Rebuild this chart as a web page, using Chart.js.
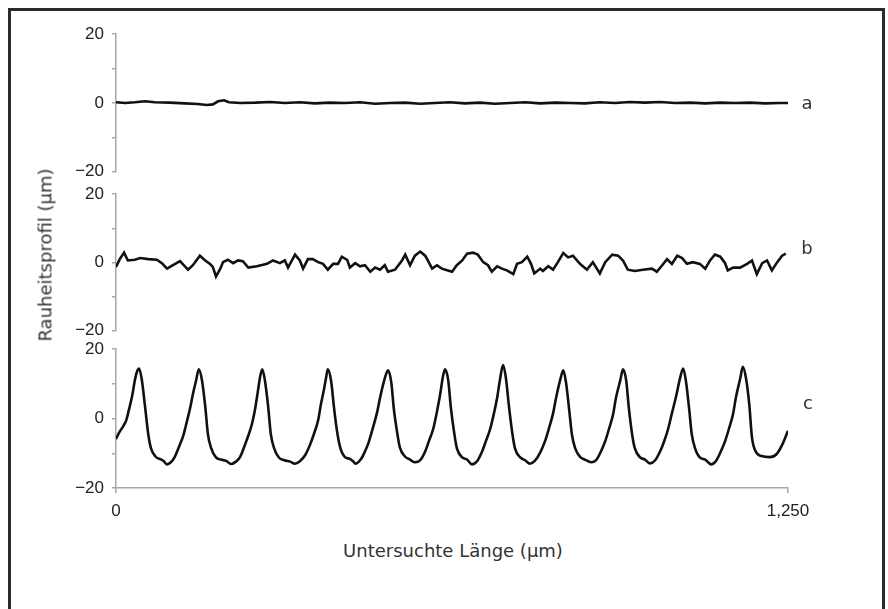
<!DOCTYPE html>
<html><head><meta charset="utf-8">
<script src="https://cdn.jsdelivr.net/npm/chart.js@4"></script>
<style>
html,body{margin:0;padding:0;background:#fff;width:888px;height:609px;overflow:hidden;position:relative;}
#frame{position:absolute;left:8px;top:8px;width:871px;height:640px;border:3px solid #2b2b2b;}
canvas{position:absolute;left:0;}
.lbl{position:absolute;font-family:'DejaVu Sans',sans-serif;font-size:18px;color:#333;transform:translate(-50%,-50%);white-space:nowrap;}
#ytitle{transform:translate(-50%,-50%) rotate(-90deg);}
</style></head><body>
<div id="frame"></div>
<canvas id="ca" width="888" height="174" style="top:16px;width:888px;height:174px"></canvas>
<canvas id="cb" width="888" height="173" style="top:176px;width:888px;height:173px"></canvas>
<canvas id="cc" width="888" height="202" style="top:331px;width:888px;height:202px"></canvas>
<div class="lbl" id="la" style="left:807px;top:102px">a</div>
<div class="lbl" id="lb" style="left:807px;top:247px">b</div>
<div class="lbl" id="lc" style="left:808px;top:402px">c</div>
<div class="lbl" id="ytitle" style="left:45px;top:255px">Rauheitsprofil (µm)</div>
<div class="lbl" id="xtitle" style="left:453px;top:550px">Untersuchte Länge (µm)</div>
<script>
// x tick labels (µm)
const xTickValues = [0, 1250];
const xTickLabels = ['0', '1,250'];
// y tick labels
const yTickValues = [20, 0, -20];
const yTickLabels = ['20', '0', '\u221220'];

// profile a
const aX = [0,17,35,54,72,100,128,152,169,180,190,201,210,231,259,287,314,342,370,398,426,454,482,510,538,566,593,621,649,677,705,733,761,789,817,845,872,900,928,956,984,1012,1040,1068,1096,1124,1151,1179,1207,1235,1250];
const aY = [0.2,0.0,0.2,0.5,0.2,0.1,-0.1,-0.3,-0.6,-0.4,0.5,0.8,0.2,0.0,0.1,0.3,0.0,0.2,-0.1,0.1,0.0,0.2,-0.2,0.0,0.1,-0.2,0.0,0.2,-0.1,0.1,-0.2,0.0,0.2,-0.1,0.1,0.0,-0.1,0.2,0.0,0.3,0.1,0.3,0.0,0.1,-0.1,0.1,0.0,0.1,-0.1,0.0,0.0];

// profile b
const bX = [0,7,15,22,35,45,60,76,86,95,106,119,134,143,156,166,175,180,186,194,199,208,218,227,236,246,262,281,292,305,314,320,333,342,348,357,366,376,385,394,404,413,420,430,435,445,454,463,473,482,491,500,506,519,532,538,547,556,566,575,580,588,597,606,616,625,634,644,653,664,673,683,692,699,709,718,727,739,746,755,765,772,778,789,794,804,813,822,832,841,850,863,876,887,900,910,923,934,943,952,965,980,997,1006,1016,1025,1034,1044,1053,1062,1073,1086,1096,1105,1114,1124,1133,1138,1148,1161,1174,1183,1192,1202,1211,1220,1230,1239,1246];
const bY = [-1.3,1.0,2.9,0.6,0.8,1.3,1.0,0.8,-0.3,-1.8,-0.8,0.4,-2.1,-0.8,2.0,0.6,-0.4,-1.3,-4.1,-1.8,0.1,0.8,-0.2,0.6,0.4,-1.5,-1.1,-0.4,0.6,-0.2,0.6,-1.5,2.3,0.6,-1.8,1.0,1.0,0.1,-0.4,-2.1,-0.4,-0.4,1.7,0.8,-1.5,-0.2,-1.1,-0.8,-2.7,-1.5,-2.1,-0.8,-2.7,-2.1,0.6,2.3,-0.8,2.0,3.2,2.0,0.6,-1.8,-0.8,-1.8,-2.3,-2.7,-0.8,0.6,2.6,2.9,2.3,0.1,-0.8,-2.7,-1.1,-1.8,-2.3,-3.4,-0.4,0.1,1.7,-0.4,-3.2,-1.8,-2.5,-1.1,-2.1,0.1,2.8,1.5,2.0,-0.4,-2.1,0.1,-3.2,0.1,2.3,2.0,0.6,-2.1,-2.5,-2.1,-1.8,-2.7,-0.8,1.0,-0.4,2.0,1.3,-0.4,0.1,-0.4,-1.8,0.6,2.3,1.7,-0.2,-2.3,-1.5,-1.5,-0.4,0.6,-3.4,-0.2,0.6,-2.3,0.1,2.0,2.6];

// profile c
const cX = [0,6,13,19,24,30,35,39,43,48,54,60,65,74,84,89,95,102,108,117,125,130,138,143,149,154,
160,166,171,177,186,195,205,214,223,231,240,247,253,259,264,268,272,
277,283,288,294,303,313,324,333,342,352,361,368,376,381,387,391,394,
400,406,411,417,426,435,441,446,456,463,469,478,486,491,500,506,
512,517,523,528,538,547,556,566,575,582,590,597,603,608,612,
618,623,629,634,644,653,662,672,681,688,696,703,709,714,720,
725,731,737,742,752,761,770,779,789,798,805,813,818,826,832,
837,843,848,854,863,872,884,893,902,910,917,925,930,938,943,
949,954,960,965,975,984,993,1003,1012,1019,1027,1034,1042,1049,1055,
1060,1066,1071,1077,1086,1096,1107,1116,1125,1133,1140,1148,1153,1161,1166,
1172,1178,1183,1190,1201,1216,1229,1240,1250];
const cY = [-5.9,-4.0,-2.3,-0.5,2.5,6.5,11.0,13.5,14.4,11.2,3.5,-4.5,-8.5,-11.0,-11.8,-12.3,-13.2,-12.6,-11.4,-8.2,-5.0,-2.0,3.1,7.0,11.0,14.2,
11.0,3.5,-4.5,-8.5,-11.2,-11.8,-12.2,-13.1,-12.4,-11.0,-7.5,-4.5,-1.5,3.0,8.0,12.0,14.2,
11.0,3.5,-4.5,-8.5,-11.2,-12.0,-12.4,-13.0,-12.3,-10.5,-7.5,-4.5,-0.5,4.0,8.5,12.0,14.2,
11.0,2.5,-3.5,-8.3,-11.1,-11.6,-12.3,-13.0,-11.6,-9.5,-7.3,-2.6,2.0,5.9,11.6,13.9,
10.5,2.5,-4.0,-8.3,-11.0,-11.8,-12.6,-12.0,-9.5,-6.5,-3.0,2.0,7.0,12.0,14.2,
11.0,3.0,-4.0,-8.5,-11.2,-11.8,-13.2,-12.2,-9.5,-6.5,-3.0,1.5,6.0,11.0,15.4,
12.0,3.5,-4.0,-8.5,-11.2,-12.0,-13.0,-12.2,-9.8,-6.5,-3.0,1.5,5.5,11.0,13.9,
10.5,2.5,-4.5,-8.5,-11.0,-11.8,-12.6,-12.0,-9.5,-6.5,-3.0,1.5,6.0,11.0,14.2,
11.0,3.0,-4.5,-8.5,-11.2,-11.8,-12.9,-12.0,-9.5,-6.8,-3.0,1.5,6.5,11.5,14.4,
11.0,3.0,-4.5,-8.5,-11.2,-11.8,-13.2,-12.2,-9.5,-6.5,-3.0,1.5,6.0,11.5,14.9,
11.5,4.0,-5.5,-9.5,-10.8,-11.1,-10.2,-7.3,-3.5];

const tickFont = {family: "'Liberation Sans', Arial, sans-serif", size: 17};
const tickColor = '#222';
const axisColor = '#a8a8a8';

function makeChart(id, xs, ys, showX, smooth) {
  const pts = xs.map((x, i) => ({x: x, y: ys[i]}));
  return new Chart(document.getElementById(id), {
    type: 'line',
    data: {datasets: [{data: pts, borderColor: '#111', borderWidth: 2.6, pointRadius: 0,
      fill: false, tension: smooth ? 0.4 : 0, cubicInterpolationMode: smooth ? 'monotone' : 'default'}]},
    options: {
      responsive: false, animation: false, devicePixelRatio: 1,
      layout: {padding: {left: 0, right: 100, top: 16, bottom: showX ? 0 : 16}},
      plugins: {legend: {display: false}, tooltip: {enabled: false}},
      scales: {
        x: {type: 'linear', min: 0, max: 1250, display: showX,
          afterBuildTicks: s => { s.ticks = xTickValues.map(v => ({value: v})); },
          afterFit: s => { s.height = showX ? 45 : 0; },
          grid: {drawOnChartArea: false, drawTicks: true, tickLength: 5, color: axisColor, lineWidth: 1.5},
          border: {color: axisColor, width: 1.5},
          ticks: {font: tickFont, color: tickColor, padding: 8, maxRotation: 0, autoSkip: false,
            callback: v => { const k = xTickValues.indexOf(v); return k >= 0 ? xTickLabels[k] : ''; }}},
        y: {type: 'linear', min: -20, max: 20,
          afterFit: s => { s.width = 116; },
          grid: {drawOnChartArea: false, drawTicks: true, tickLength: 4, color: axisColor, lineWidth: 1.5},
          border: {color: axisColor, width: 1.5},
          ticks: {stepSize: 10, font: tickFont, color: tickColor, padding: 8,
            callback: v => { const k = yTickValues.indexOf(v); return k >= 0 ? yTickLabels[k] : ''; }}}
      }
    }
  });
}
makeChart('ca', aX, aY, false, false);
makeChart('cb', bX, bY, false, false);
makeChart('cc', cX, cY, true, true);
</script>
</body></html>
